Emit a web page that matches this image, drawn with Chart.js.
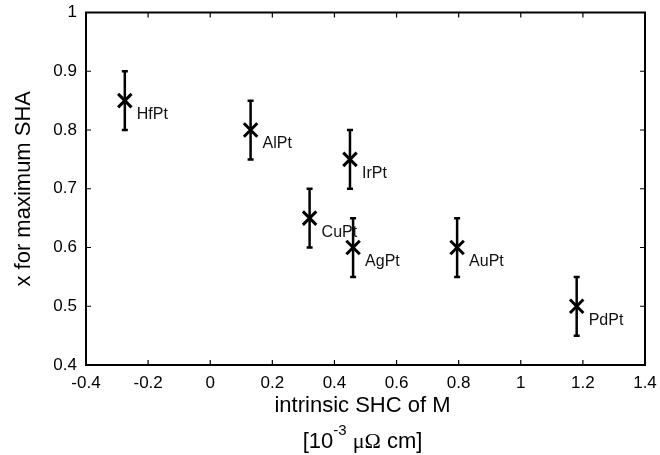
<!DOCTYPE html>
<html>
<head>
<meta charset="utf-8">
<script src="https://cdn.jsdelivr.net/npm/chart.js@4.4.0/dist/chart.umd.min.js"></script>
<style>
html,body{margin:0;padding:0;background:#fff;}
#wrap{width:660px;height:455px;position:relative;}
</style>
</head>
<body>
<div id="wrap"><canvas id="c"></canvas></div>
<script>
// ---- data ----
const alloys = ['HfPt', 'AlPt', 'CuPt', 'IrPt', 'AgPt', 'AuPt', 'PdPt'];
const intrinsicSHC = [-0.275, 0.13, 0.32, 0.45, 0.46, 0.795, 1.18];
const xForMaxSHA = [0.85, 0.80, 0.65, 0.75, 0.60, 0.60, 0.50];
const errorHalf = [0.05, 0.05, 0.05, 0.05, 0.05, 0.05, 0.05];
const xTicks = [-0.4, -0.2, 0, 0.2, 0.4, 0.6, 0.8, 1, 1.2, 1.4];
const yTicks = [0.4, 0.5, 0.6, 0.7, 0.8, 0.9, 1];
const xTitleLine1 = 'intrinsic SHC of M';
const xTitleUnit = ['[10', '-3', ' ', '\u03BC\u03A9', ' cm]'];
const yTitle = 'x for maximum SHA';

const FONT = '"Liberation Sans", Arial, Helvetica, sans-serif';

const points = intrinsicSHC.map((v, i) => ({x: v, y: xForMaxSHA[i]}));

const decor = {
  id: 'decor',
  beforeDatasetsDraw(chart) {
    const ctx = chart.ctx, xs = chart.scales.x, ys = chart.scales.y;
    ctx.save();
    ctx.strokeStyle = '#000';
    ctx.lineWidth = 2.5;
    ctx.lineCap = 'butt';
    for (let i = 0; i < intrinsicSHC.length; i++) {
      const px = xs.getPixelForValue(intrinsicSHC[i]);
      const pLo = ys.getPixelForValue(xForMaxSHA[i] - errorHalf[i]);
      const pHi = ys.getPixelForValue(xForMaxSHA[i] + errorHalf[i]);
      ctx.beginPath();
      ctx.moveTo(px, pLo); ctx.lineTo(px, pHi);
      ctx.moveTo(px - 3, pLo); ctx.lineTo(px + 3, pLo);
      ctx.moveTo(px - 3, pHi); ctx.lineTo(px + 3, pHi);
      ctx.stroke();
    }
    ctx.restore();
  },
  afterDraw(chart) {
    const ctx = chart.ctx, xs = chart.scales.x, ys = chart.scales.y;
    const a = chart.chartArea;
    ctx.save();
    // frame
    ctx.strokeStyle = '#000';
    ctx.lineWidth = 2;
    ctx.strokeRect(a.left, a.top, a.right - a.left, a.bottom - a.top);
    // inward ticks on all sides
    ctx.lineWidth = 1.2;
    ctx.beginPath();
    xTicks.forEach(v => {
      const p = xs.getPixelForValue(v);
      ctx.moveTo(p, a.bottom); ctx.lineTo(p, a.bottom - 5);
      ctx.moveTo(p, a.top); ctx.lineTo(p, a.top + 5);
    });
    yTicks.forEach(v => {
      const p = ys.getPixelForValue(v);
      ctx.moveTo(a.left, p); ctx.lineTo(a.left + 5, p);
      ctx.moveTo(a.right, p); ctx.lineTo(a.right - 5, p);
    });
    ctx.stroke();
    // point labels
    ctx.fillStyle = '#111';
    ctx.font = '16px ' + FONT;
    ctx.textAlign = 'left';
    ctx.textBaseline = 'middle';
    for (let i = 0; i < alloys.length; i++) {
      const px = xs.getPixelForValue(intrinsicSHC[i]);
      const py = ys.getPixelForValue(xForMaxSHA[i]);
      ctx.fillText(alloys[i], px + 12, py + 14);
    }
    // x-axis title (two lines, with superscript)
    const cx = (a.left + a.right) / 2 - 3;
    ctx.fillStyle = '#000';
    ctx.textBaseline = 'alphabetic';
    ctx.textAlign = 'center';
    ctx.font = '22px ' + FONT;
    ctx.fillText(xTitleLine1, cx, 412);
    const fonts = ['22px ' + FONT, '15px ' + FONT, '22px ' + FONT, '22px "Liberation Serif", "Times New Roman", serif', '22px ' + FONT];
    const base = [448, 435, 448, 448, 448];
    let widths = xTitleUnit.map((t, i) => { ctx.font = fonts[i]; return ctx.measureText(t).width; });
    const total = widths.reduce((s, w) => s + w, 0);
    let x0 = cx - total / 2;
    ctx.textAlign = 'left';
    xTitleUnit.forEach((t, i) => {
      ctx.font = fonts[i];
      ctx.fillText(t, x0, base[i]);
      x0 += widths[i];
    });
    ctx.restore();
  }
};

function zeroPad(s) { s.paddingTop = 0; s.paddingBottom = 0; s.paddingLeft = 0; s.paddingRight = 0; }

new Chart(document.getElementById('c'), {
  type: 'scatter',
  data: {
    datasets: [{
      data: points,
      pointStyle: 'crossRot',
      pointRadius: 9.5,
      pointHoverRadius: 9.5,
      borderColor: '#000',
      backgroundColor: '#000',
      pointBorderWidth: 3,
      showLine: false
    }]
  },
  options: {
    responsive: true,
    maintainAspectRatio: false,
    animation: false,
    devicePixelRatio: 1,
    layout: {padding: {left: 0, right: 15, top: 12, bottom: 0}},
    plugins: {legend: {display: false}, tooltip: {enabled: false}},
    scales: {
      x: {
        type: 'linear',
        min: -0.4, max: 1.4,
        afterBuildTicks: s => { s.ticks = xTicks.map(v => ({value: v})); },
        afterFit: s => { s.height = 90; zeroPad(s); },
        grid: {display: false, drawTicks: false},
        border: {display: false},
        ticks: {
          color: '#000', padding: 8,
          font: {size: 17, family: FONT},
          maxRotation: 0, autoSkip: false,
          callback: v => String(Math.round(v * 10) / 10)
        }
      },
      y: {
        type: 'linear',
        min: 0.4, max: 1,
        afterBuildTicks: s => { s.ticks = yTicks.map(v => ({value: v})); },
        afterFit: s => { s.width = 86; zeroPad(s); },
        grid: {display: false, drawTicks: false},
        border: {display: false},
        ticks: {
          color: '#000', padding: 9,
          font: {size: 17, family: FONT},
          autoSkip: false,
          callback: v => String(Math.round(v * 10) / 10)
        },
        title: {
          display: true, text: yTitle, color: '#000',
          font: {size: 22, family: FONT},
          padding: {top: 11, bottom: 0}
        }
      }
    }
  },
  plugins: [decor]
});
</script>
</body>
</html>
